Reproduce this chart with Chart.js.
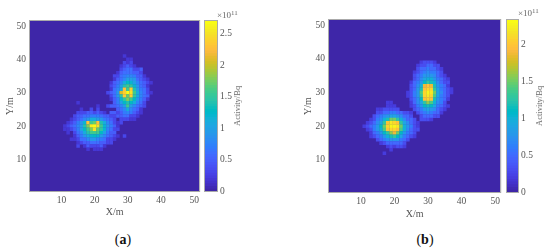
<!DOCTYPE html>
<html>
<head>
<meta charset="utf-8">
<script src="https://cdn.jsdelivr.net/npm/chart.js@4"></script>
<style>
    body { margin: 0; background: #fff; }
    #page { position: relative; width: 550px; height: 252px; overflow: hidden; font-family: "Liberation Serif", serif; }
    canvas { position: absolute; filter: blur(0.35px); }
    .note { position: absolute; color: #666; font-size: 9px; line-height: 10px; white-space: nowrap; }
    .note sup { font-size: 7px; line-height: 0; vertical-align: 3px; }
    .cbar { position: absolute; color: #666; font-size: 8.5px; line-height: 10px; white-space: nowrap; transform: translate(-50%, -50%) rotate(-90deg); }
    .cap { position: absolute; color: #111; font-size: 14px; line-height: 16px; transform: translateX(-50%); white-space: nowrap; }
</style>
</head>
<body>
<div id="page">
    <canvas id="mapA"></canvas>
    <canvas id="barA"></canvas>
    <canvas id="mapB"></canvas>
    <canvas id="barB"></canvas>
    <div class="note" style="left:217px;top:10px">×10<sup>11</sup></div>
    <div class="note" style="left:518px;top:8px">×10<sup>11</sup></div>
    <div class="cbar" style="left:237px;top:106px">Activity/Bq</div>
    <div class="cbar" style="left:539px;top:106px">Activity/Bq</div>
    <div class="cap" style="left:123px;top:232px">(<b>a</b>)</div>
    <div class="cap" style="left:425px;top:232px">(<b>b</b>)</div>
</div>
<script>
//tick labels
const tick_xy = [10, 20, 30, 40, 50];
const tick_bar_a = [0, 0.5, 1, 1.5, 2, 2.5];
const tick_bar_b = [0, 0.5, 1, 1.5, 2];

//top of each colorbar, in 1e11 Bq
const max_a = 2.7;
const max_b = 2.34;

//panel a, activity in 1e10 Bq: row Y, first X of the row, cells from that X
const filas_a = [41, 40, 39, 38, 37, 36, 35, 34, 33, 32, 31, 30, 29, 28, 27, 26, 25, 24, 23, 22, 21, 20, 19, 18, 17, 16, 15, 14, 13];
const inicio_a = [29, 30, 29, 28, 28, 27, 26, 26, 25, 25, 25, 24, 25, 25, 15, 21, 16, 15, 14, 13, 12, 11, 11, 12, 14, 13, 15, 15, 18];
const celdas_a = [
    [2],
    [2, 2],
    [3, 2, 3],
    [2, 3, 5, 3, 2],
    [3, 5, 6, 6, 3, 3, 5],
    [2, 5, 6, 6, 6, 5, 5, 3],
    [3, 3, 6, 7, 8, 8, 7, 5, 5, 2],
    [2, 5, 6, 8, 10, 10, 9, 6, 5, 3, 2],
    [2, 5, 6, 8, 11, 13, 12, 10, 8, 6, 5, 3, 2],
    [3, 5, 7, 10, 14, 16, 15, 12, 9, 6, 5, 2],
    [2, 6, 8, 11, 23, 16, 24, 14, 10, 7, 6, 3],
    [3, 5, 6, 9, 21, 24, 27, 25, 16, 11, 8, 6, 3, 2],
    [3, 6, 9, 15, 24, 17, 24, 15, 11, 8, 6, 5],
    [2, 5, 7, 12, 15, 18, 16, 13, 9, 7, 5, 2],
    [2, 0, 0, 0, 0, 0, 0, 0, 0, 0, 0, 5, 7, 10, 13, 14, 13, 11, 8, 6, 3],
    [2, 0, 0, 3, 5, 5, 6, 8, 10, 16, 10, 8, 6, 5, 3],
    [2, 0, 0, 3, 0, 3, 0, 0, 0, 0, 0, 5, 6, 8, 11, 8, 6, 5, 2],
    [3, 3, 3, 5, 5, 3, 5, 3, 2, 0, 5, 5, 3, 5, 7, 8, 7, 5, 3, 2],
    [3, 5, 5, 6, 6, 7, 7, 7, 6, 5, 5, 3, 3, 5, 5, 6, 6, 3, 3, 2],
    [2, 3, 5, 6, 8, 9, 11, 11, 10, 9, 7, 6, 5, 3, 0, 3, 3, 3, 2, 2],
    [2, 3, 5, 7, 9, 12, 23, 16, 17, 23, 14, 11, 8, 6, 3, 2, 3],
    [2, 3, 5, 6, 8, 10, 14, 18, 26, 27, 25, 16, 12, 9, 7, 5, 2],
    [2, 2, 3, 5, 7, 10, 13, 16, 18, 25, 17, 15, 12, 8, 6, 3, 3],
    [2, 0, 3, 6, 8, 11, 14, 16, 16, 16, 13, 10, 7, 5, 5],
    [2, 5, 7, 9, 11, 12, 13, 12, 10, 8, 6, 5, 3, 2, 0, 3],
    [2, 2, 3, 6, 6, 8, 9, 9, 8, 7, 6, 3, 3, 2],
    [2, 3, 5, 5, 6, 6, 6, 5, 5, 3, 3],
    [3, 0, 2, 5, 3, 3, 3, 5, 2],
    [2, 0, 2, 2, 2]
];

//panel b
const filas_b = [39, 38, 37, 36, 35, 34, 33, 32, 31, 30, 29, 28, 27, 26, 25, 24, 23, 22, 21, 20, 19, 18, 17, 16, 15, 14, 13, 12];
const inicio_b = [28, 27, 27, 26, 26, 26, 25, 25, 25, 24, 24, 25, 18, 18, 15, 15, 14, 13, 12, 11, 12, 13, 13, 15, 16, 18, 19, 17];
const celdas_b = [
    [2, 3, 3, 3, 2],
    [2, 3, 3, 5, 5, 3, 3],
    [3, 5, 5, 6, 5, 5, 3, 2],
    [2, 3, 5, 6, 7, 6, 6, 5, 3],
    [3, 5, 6, 8, 8, 8, 7, 5, 3, 2],
    [3, 5, 7, 9, 10, 10, 8, 6, 5, 3, 2],
    [2, 5, 6, 8, 11, 13, 12, 10, 7, 5, 3, 3],
    [3, 5, 7, 10, 19, 20, 19, 12, 8, 6, 5, 2],
    [3, 5, 8, 12, 20, 21, 21, 13, 9, 6, 5, 3, 2],
    [2, 3, 6, 8, 14, 21, 23, 22, 15, 9, 7, 5, 3, 2],
    [2, 3, 6, 8, 13, 21, 22, 21, 14, 9, 6, 5, 3],
    [3, 5, 7, 11, 20, 21, 20, 12, 8, 6, 5, 2],
    [2, 2, 0, 0, 0, 0, 0, 2, 5, 7, 9, 13, 16, 14, 10, 7, 6, 3],
    [2, 2, 2, 0, 0, 0, 0, 2, 3, 6, 8, 11, 12, 11, 9, 6, 5, 3, 2],
    [2, 2, 3, 3, 3, 3, 3, 0, 0, 0, 0, 3, 5, 6, 8, 9, 8, 7, 5, 3, 2],
    [3, 3, 5, 5, 6, 6, 5, 5, 3, 3, 2, 0, 3, 5, 6, 7, 6, 5, 5, 2],
    [3, 5, 6, 7, 8, 9, 9, 8, 7, 5, 5, 3, 0, 0, 3, 5, 5, 5, 3, 3],
    [2, 3, 6, 7, 10, 12, 15, 15, 13, 10, 7, 5, 5, 3, 0, 3, 3, 3, 2],
    [2, 3, 5, 7, 9, 13, 20, 22, 21, 20, 13, 9, 7, 5, 3, 2],
    [2, 3, 5, 6, 8, 11, 15, 21, 23, 23, 22, 15, 10, 8, 6, 3, 2],
    [2, 3, 6, 8, 10, 14, 20, 21, 21, 20, 14, 10, 7, 5, 3, 3],
    [2, 5, 6, 8, 11, 13, 16, 19, 15, 11, 8, 6, 5, 3],
    [2, 3, 5, 6, 8, 10, 12, 13, 11, 9, 6, 5, 3, 2],
    [3, 5, 6, 7, 8, 8, 8, 6, 5, 3],
    [2, 3, 5, 5, 5, 5, 5, 3],
    [2, 3, 2, 3, 3, 2],
    [2],
    [2]
];

//parula
const parula = [
    [0.2422, 0.1504, 0.6603], [0.2504, 0.1650, 0.7076], [0.2578, 0.1818, 0.7511], [0.2647, 0.1978, 0.7952],
    [0.2706, 0.2147, 0.8364], [0.2751, 0.2342, 0.8710], [0.2783, 0.2559, 0.8991], [0.2803, 0.2782, 0.9221],
    [0.2813, 0.3006, 0.9414], [0.2810, 0.3228, 0.9579], [0.2795, 0.3447, 0.9717], [0.2760, 0.3667, 0.9829],
    [0.2699, 0.3892, 0.9906], [0.2602, 0.4123, 0.9952], [0.2440, 0.4358, 0.9988], [0.2206, 0.4603, 0.9973],
    [0.1963, 0.4847, 0.9892], [0.1834, 0.5074, 0.9798], [0.1786, 0.5289, 0.9682], [0.1764, 0.5499, 0.9520],
    [0.1687, 0.5703, 0.9359], [0.1540, 0.5902, 0.9218], [0.1460, 0.6091, 0.9079], [0.1380, 0.6276, 0.8973],
    [0.1248, 0.6459, 0.8883], [0.1113, 0.6635, 0.8763], [0.0952, 0.6798, 0.8598], [0.0689, 0.6948, 0.8394],
    [0.0297, 0.7082, 0.8163], [0.0036, 0.7203, 0.7917], [0.0067, 0.7312, 0.7660], [0.0433, 0.7411, 0.7394],
    [0.0964, 0.7500, 0.7120], [0.1408, 0.7584, 0.6842], [0.1717, 0.7670, 0.6554], [0.1938, 0.7758, 0.6251],
    [0.2161, 0.7843, 0.5923], [0.2470, 0.7918, 0.5567], [0.2906, 0.7973, 0.5188], [0.3406, 0.8008, 0.4789],
    [0.3909, 0.8029, 0.4354], [0.4456, 0.8024, 0.3909], [0.5044, 0.7993, 0.3480], [0.5616, 0.7942, 0.3045],
    [0.6174, 0.7876, 0.2612], [0.6720, 0.7793, 0.2227], [0.7242, 0.7698, 0.1910], [0.7738, 0.7598, 0.1646],
    [0.8203, 0.7498, 0.1535], [0.8634, 0.7406, 0.1596], [0.9035, 0.7330, 0.1774], [0.9393, 0.7288, 0.2100],
    [0.9728, 0.7298, 0.2394], [0.9956, 0.7434, 0.2371], [0.9970, 0.7659, 0.2199], [0.9952, 0.7893, 0.2028],
    [0.9892, 0.8136, 0.1885], [0.9786, 0.8386, 0.1766], [0.9676, 0.8639, 0.1643], [0.9610, 0.8890, 0.1537],
    [0.9597, 0.9135, 0.1423], [0.9628, 0.9373, 0.1265], [0.9691, 0.9606, 0.1064], [0.9769, 0.9839, 0.0805]
];

const texto = '#555';
const marco = '#aaa';

function colorDe(frac) {
    const c = parula[Math.max(0, Math.min(63, Math.floor(frac * 64)))];
    return 'rgb(' + Math.round(c[0] * 255) + ',' + Math.round(c[1] * 255) + ',' + Math.round(c[2] * 255) + ')';
}

//fondo y marco del area de datos
const fondo = {
    id: 'fondo',
    beforeDatasetsDraw(chart, args, opts) {
        if (!opts.color) return;
        const a = chart.chartArea;
        chart.ctx.fillStyle = opts.color;
        chart.ctx.fillRect(a.left, a.top, a.width, a.height);
    },
    afterDatasetsDraw(chart) {
        const a = chart.chartArea;
        chart.ctx.strokeStyle = marco;
        chart.ctx.lineWidth = 1;
        chart.ctx.strokeRect(a.left - 0.5, a.top - 0.5, a.width + 1, a.height + 1);
    }
};

function setCanvas(id, left, top, w, h) {
    const c = document.getElementById(id);
    c.width = w;
    c.height = h;
    c.style.left = left + 'px';
    c.style.top = top + 'px';
    c.style.width = w + 'px';
    c.style.height = h + 'px';
    return c;
}

function mapa(id, left, top, w, h, filas, inicio, celdas, maxBar, conf) {
    const puntos = [];
    for (let i = 0; i < filas.length; i++) {
        for (let k = 0; k < celdas[i].length; k++) {
            if (celdas[i][k] > 0) {
                puntos.push({ x: inicio[i] + k, y: filas[i], v: celdas[i][k] / 10 });
            }
        }
    }
    const eje = function (titulo, pad) {
        return {
            type: 'linear',
            min: 0.5,
            max: 51.5,
            afterBuildTicks: function (s) { s.ticks = tick_xy.map(v => ({ value: v })); },
            grid: { display: false, drawTicks: false },
            border: { display: false },
            title: { display: true, text: titulo, color: texto, font: { family: 'Liberation Serif', size: 10 }, padding: pad },
            ticks: {
                color: texto,
                font: { family: 'Liberation Serif', size: 9.5 },
                padding: conf.tickPad,
                maxRotation: 0,
                autoSkip: false,
                callback: v => String(v)
            }
        };
    };
    const x = eje('X/m', { top: 0, bottom: conf.xTitle });
    x.afterFit = function (s) { s.height = conf.xAxis; };
    const y = eje('Y/m', { top: conf.yTitle, bottom: 0 });
    y.afterFit = function (s) { s.width = conf.yAxis; };
    return new Chart(setCanvas(id, left, top, w, h), {
        type: 'scatter',
        data: {
            datasets: [{
                data: puntos,
                pointStyle: 'rect',
                borderWidth: 0,
                pointBorderWidth: 0,
                pointRadius: function (ctx) { return (ctx.chart.scales.x.width / 51 + 0.2) * Math.SQRT1_2; },
                pointBackgroundColor: function (ctx) {
                    const p = ctx.raw;
                    return p ? colorDe(p.v / maxBar) : parula[0];
                }
            }]
        },
        options: {
            responsive: false,
            animation: false,
            events: [],
            layout: { padding: { left: 0, top: conf.top, right: conf.right, bottom: 0 } },
            plugins: { legend: { display: false }, tooltip: { enabled: false }, fondo: { color: colorDe(0) } },
            scales: { x: x, y: y }
        },
        plugins: [fondo]
    });
}

function barra(id, left, top, w, h, maxBar, ticks, conf) {
    const series = [];
    //bars overlap upward from each level; Chart.js paints the first dataset last
    for (let n = 63; n >= 0; n--) {
        series.push({
            data: [[maxBar * n / 64, maxBar]],
            backgroundColor: colorDe((n + 0.5) / 64),
            borderWidth: 0,
            barPercentage: 1,
            categoryPercentage: 1
        });
    }
    return new Chart(setCanvas(id, left, top, w, h), {
        type: 'bar',
        data: { labels: ['Activity'], datasets: series },
        options: {
            responsive: false,
            animation: false,
            events: [],
            grouped: false,
            layout: { padding: { left: conf.left, top: conf.top, right: 0, bottom: conf.bottom } },
            plugins: { legend: { display: false }, tooltip: { enabled: false } },
            scales: {
                x: { display: false },
                y: {
                    position: 'right',
                    min: 0,
                    max: maxBar,
                    afterBuildTicks: function (s) { s.ticks = ticks.map(v => ({ value: v })); },
                    afterFit: function (s) { s.width = conf.axis; },
                    grid: { display: false, drawTicks: false },
                    border: { display: false },
                    ticks: {
                        color: texto,
                        font: { family: 'Liberation Serif', size: 9.5 },
                        padding: 3,
                        autoSkip: false,
                        callback: v => String(v)
                    }
                }
            }
        },
        plugins: [fondo]
    });
}

window.onload = function () {
    mapa('mapA', 0, 0, 203, 225, filas_a, inicio_a, celdas_a, max_a, { top: 21, right: 3, xAxis: 34, yAxis: 30, tickPad: 4, xTitle: 7, yTitle: 4 });
    barra('barA', 203, 0, 34, 225, max_a, tick_bar_a, { left: 2, top: 21, bottom: 34, axis: 20 });
    mapa('mapB', 299, 0, 205, 225, filas_b, inicio_b, celdas_b, max_b, { top: 20, right: 3, xAxis: 33, yAxis: 30, tickPad: 4, xTitle: 5, yTitle: 3 });
    barra('barB', 504, 0, 34, 225, max_b, tick_bar_b, { left: 3, top: 20, bottom: 33, axis: 20 });
};
</script>
</body>
</html>
